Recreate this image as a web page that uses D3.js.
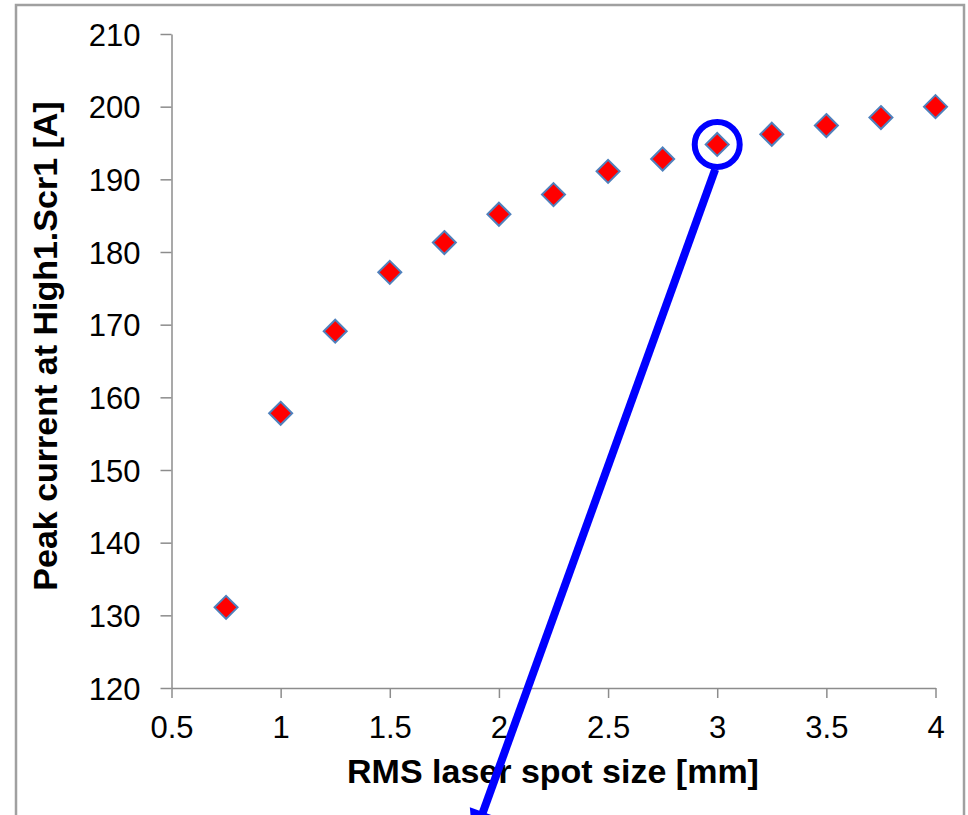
<!DOCTYPE html>
<html>
<head>
<meta charset="utf-8">
<script src="https://cdn.jsdelivr.net/npm/d3@7"></script>
<style>
  html, body { margin: 0; padding: 0; background: #fff; }
  svg { display: block; font-family: "Liberation Sans", Arial, sans-serif; }
</style>
</head>
<body>
<svg id="chart" width="968" height="815"></svg>
<script>
// spot size [mm] and peak current [A]
const spotSize = [0.75, 1, 1.25, 1.5, 1.75, 2, 2.25, 2.5, 2.75, 3, 3.25, 3.5, 3.75, 4];
const peakCurrent = [131.1, 157.8, 169.1, 177.2, 181.3, 185.2, 187.9, 191.1, 192.8, 194.8, 196.2, 197.4, 198.5, 200.0];
const xTicks = [0.5, 1, 1.5, 2, 2.5, 3, 3.5, 4];
const yTicks = [120, 130, 140, 150, 160, 170, 180, 190, 200, 210];
const highlightX = 3;

const axisColor = '#8c8c8c';

const svg = d3.select('#chart');

// outer frame
svg.append('rect')
    .attr('x', 16).attr('y', 5)
    .attr('width', 948).attr('height', 840)
    .attr('fill', 'none')
    .attr('stroke', '#a0a0a0')
    .attr('stroke-width', 2.5);

const x = d3.scaleLinear().domain([0.5, 4]).range([171.5, 935.5]);
const y = d3.scaleLinear().domain([120, 210]).range([688, 34]);

// y axis
const gy = svg.append('g')
    .attr('transform', 'translate(171.5,0)')
    .call(d3.axisLeft(y).tickValues(yTicks).tickSize(11).tickPadding(20).tickSizeOuter(0));
// x axis
const gx = svg.append('g')
    .attr('transform', 'translate(0,688)')
    .call(d3.axisBottom(x).tickValues(xTicks).tickSize(10).tickPadding(18).tickSizeOuter(0)
        .tickFormat(d3.format('')));

[gx, gy].forEach(g => {
    g.selectAll('path, line').attr('stroke', axisColor).attr('stroke-width', 1.5);
    g.selectAll('text')
        .attr('fill', '#000')
        .style('font-size', '31px')
        .style('font-family', '"Liberation Sans", Arial, sans-serif');
});
gy.selectAll('text').attr('dy', '0.36em');

// axis titles
svg.append('text')
    .attr('x', 553).attr('y', 783)
    .attr('text-anchor', 'middle')
    .style('font-size', '34px').style('font-weight', 'bold')
    .text('RMS laser spot size [mm]');

svg.append('text')
    .attr('transform', 'translate(57,346) rotate(-90)')
    .attr('text-anchor', 'middle')
    .style('font-size', '34px').style('font-weight', 'bold')
    .text('Peak current at High1.Scr1 [A]');

// diamond markers
const data = spotSize.map((s, i) => ({ s: s, c: peakCurrent[i] }));
svg.append('g').selectAll('path')
    .data(data)
    .enter().append('path')
    .attr('d', 'M0,-11.5L11.5,0L0,11.5L-11.5,0Z')
    .attr('transform', d => `translate(${x(d.s)},${y(d.c)})`)
    .attr('fill', '#ff0000')
    .attr('stroke', '#4f81bd')
    .attr('stroke-width', 2);

// annotation: circle + arrow line
const hi = data.find(d => d.s === highlightX);
const cx = x(hi.s), cy = y(hi.c);
svg.append('circle')
    .attr('cx', cx).attr('cy', cy)
    .attr('r', 22.5)
    .attr('fill', 'none')
    .attr('stroke', '#0000ff')
    .attr('stroke-width', 6);

const x0 = cx - 2, y0 = cy + 25;
const x1 = 483, y1 = 812;
const ux = (x1 - x0), uy = (y1 - y0);
const len = Math.hypot(ux, uy);
const dx = ux / len, dy = uy / len;
const tipX = x1 + dx * 30, tipY = y1 + dy * 30;
svg.append('line')
    .attr('x1', x0).attr('y1', y0)
    .attr('x2', tipX - dx * 10).attr('y2', tipY - dy * 10)
    .attr('stroke', '#0000ff')
    .attr('stroke-width', 8);
// arrowhead (mostly cut off at the bottom edge)
const px = -dy, py = dx;
svg.append('path')
    .attr('d', `M${x1 + px * 14},${y1 + py * 14}L${tipX},${tipY}L${x1 - px * 14},${y1 - py * 14}Z`)
    .attr('fill', '#0000ff');
</script>
</body>
</html>
